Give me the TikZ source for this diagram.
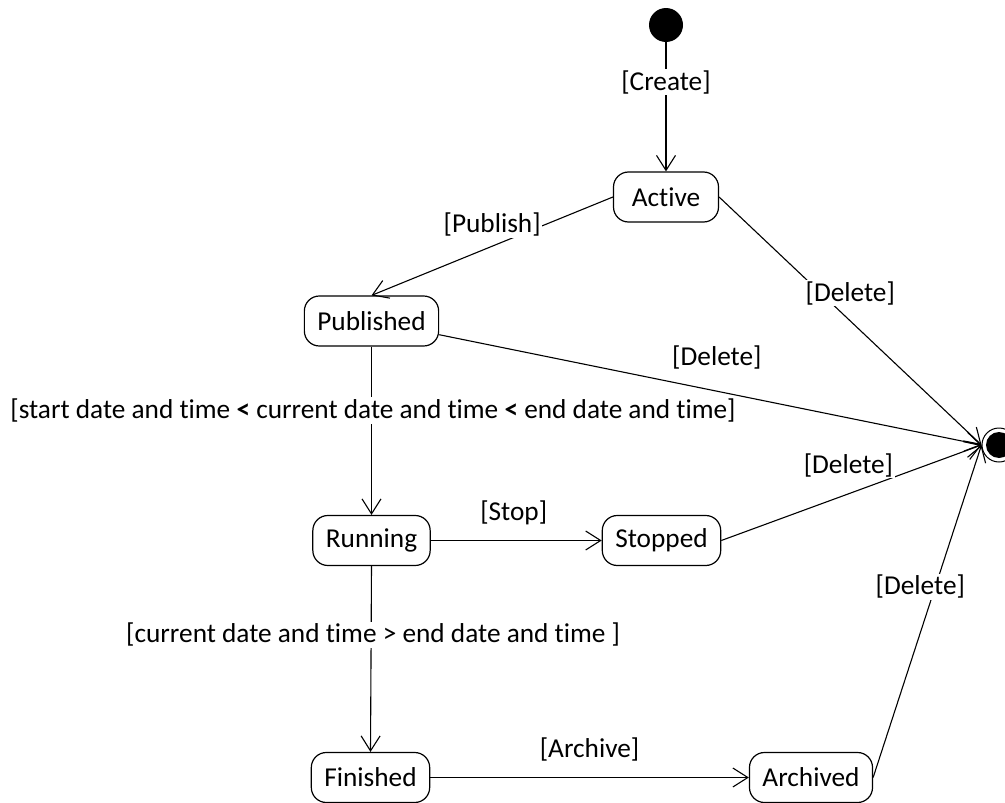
\documentclass[tikz,border=0pt]{standalone}
\usepackage{fontspec}
\setmainfont{Carlito}[Ligatures={NoCommon}]
\usetikzlibrary{arrows.meta}
\begin{document}
\begin{tikzpicture}[x=1pt,y=-1pt,
  font=\fontsize{27.3}{32}\selectfont,
  state/.style={draw, line width=1.2pt, rounded corners=15pt, minimum width=105pt,
    minimum height=50pt, inner xsep=13pt, inner ysep=0pt},
  trans/.style={line width=1.1pt, -{Straight Barb[length=15pt,width=19pt]}},
  guard/.style={fill=white, inner sep=1.5pt},
  ]
\useasboundingbox (0,0) rectangle (1005,803);

% pseudo states
\node[circle, fill=black, minimum size=34pt, inner sep=0pt] (init) at (666,25) {};
\node[circle, draw, line width=1pt, minimum size=34pt, inner sep=0pt] (fin) at (999,445) {};
\fill (fin.center) circle (13pt);

% states
\node[state] (active)    at (666,197)   {Active};
\node[state] (published) at (371.5,321) {Published};
\node[state] (running)   at (371.5,540.5) {Running};
\node[state] (stopped)   at (661.5,540.5) {Stopped};
\node[state] (finished)  at (370.5,777.5) {Finished};
\node[state] (archived)  at (811,777.5) {Archived};

% transitions
\draw[trans] (init) -- node[guard, pos=0.31] {[Create]} (active);
\draw[trans] (active.west) -- node[guard, pos=0.5, yshift=21.5pt] {[Publish]} (published.north);
\draw[trans] (active.east) -- node[guard, pos=0.5, yshift=28pt] {[Delete]} (fin.west);
\draw[trans] (published) -- node[guard, pos=0.5, xshift=6.5pt, yshift=32.5pt] {[Delete]} (fin.west);
\draw[trans] (published.south) -- node[guard, pos=0.38, xshift=1.5pt]
  {[start date and time {\bfseries <} current date and time {\bfseries <} end date and time]} (running.north);
\draw[trans] (running.east) -- node[pos=0.5, xshift=-2.5pt, yshift=28pt] {[Stop]} (stopped.west);
\draw[trans] (stopped.east) -- node[guard, pos=0.5, xshift=-3pt, yshift=27.5pt] {[Delete]} (fin.west);
\draw[trans] (running.south) -- node[guard, pos=0.37, xshift=2pt]
  {[current date and time > end date and time ]} (finished.north);
\draw[trans] (finished.east) -- node[pos=0.5, yshift=28.5pt] {[Archive]} (archived.west);
\draw[trans] (archived.east) -- node[guard, pos=0.5, xshift=-7pt, yshift=24.5pt] {[Delete]} (fin.west);
\end{tikzpicture}
\end{document}
